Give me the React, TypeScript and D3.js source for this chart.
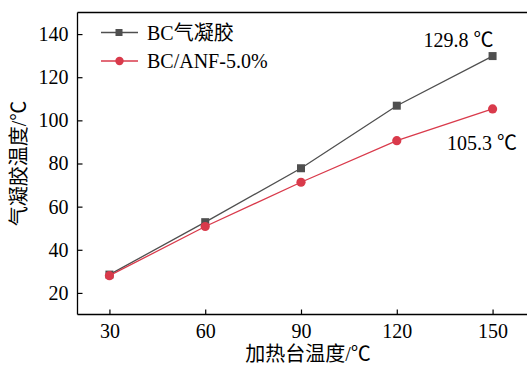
import { useEffect, useRef } from 'react'
import * as d3 from 'd3'

// heating stage temperature (°C)
const temps = [30, 60, 90, 120, 150]
// aerogel surface temperature (°C)
const bcValues = [28.5, 52.8, 77.8, 106.8, 129.8]
const anfValues = [28.0, 50.8, 71.3, 90.6, 105.3]

const xTicks = [30, 60, 90, 120, 150]
const yTicks = [20, 40, 60, 80, 100, 120, 140]

const seriesNames = ['BC气凝胶', 'BC/ANF-5.0%']
const annotations = ['129.8 ℃', '105.3 ℃']

const W = 528
const H = 365
const FONT = '"Liberation Serif", "Times New Roman", "Noto Sans CJK SC", serif'
const GRAY = '#4f4f4f'
const RED = '#d93a4b'

export default function App() {
    const svgRef = useRef<SVGSVGElement>(null)

    useEffect(() => {
        if (!svgRef.current) return
        document.body.style.margin = '0'
        document.body.style.overflow = 'hidden'
        const svg = d3.select(svgRef.current)
        svg.selectAll('*').remove()

        const left = 77.5, top = 12.5, bottom = 314.5
        const x = d3.scaleLinear().domain([20, 160]).range([left, 524.5])
        const y = d3.scaleLinear().domain([10, 150]).range([bottom, top])

        // frame: left, top and bottom (right edge falls outside the picture)
        const frame = svg.append('g').attr('stroke', '#000').attr('stroke-width', 1.3)
        frame.append('line').attr('x1', left).attr('x2', left).attr('y1', top).attr('y2', bottom)
        frame.append('line').attr('x1', left).attr('x2', W - 1).attr('y1', top).attr('y2', top)
        frame.append('line').attr('x1', left).attr('x2', W - 1).attr('y1', bottom).attr('y2', bottom)

        // inward ticks
        const xAxis = svg.append('g').attr('transform', `translate(0,${bottom})`)
            .call(d3.axisBottom(x).tickValues(xTicks).tickSize(-5).tickSizeOuter(0).tickPadding(9).tickFormat(d3.format('d')))
        const yAxis = svg.append('g').attr('transform', `translate(${left},0)`)
            .call(d3.axisLeft(y).tickValues(yTicks).tickSize(-5).tickSizeOuter(0).tickPadding(9).tickFormat(d3.format('d')))
        for (const ax of [xAxis, yAxis]) {
            ax.selectAll('.domain').remove()
            ax.selectAll('line').attr('stroke', '#000').attr('stroke-width', 1.2)
            ax.selectAll('text')
                .attr('fill', '#000')
                .attr('font-family', FONT)
                .attr('font-size', 20)
        }

        const line = d3.line<number>()
            .x((_, i) => x(temps[i]))
            .y(d => y(d))

        // BC series
        svg.append('path').datum(bcValues)
            .attr('fill', 'none').attr('stroke', GRAY).attr('stroke-width', 1.3)
            .attr('d', line)
        svg.selectAll('.sq').data(bcValues).enter().append('rect')
            .attr('x', (_, i) => x(temps[i]) - 4)
            .attr('y', d => y(d) - 4)
            .attr('width', 8).attr('height', 8)
            .attr('fill', GRAY)

        // BC/ANF series
        svg.append('path').datum(anfValues)
            .attr('fill', 'none').attr('stroke', RED).attr('stroke-width', 1.3)
            .attr('d', line)
        svg.selectAll('.dot').data(anfValues).enter().append('circle')
            .attr('cx', (_, i) => x(temps[i]))
            .attr('cy', d => y(d))
            .attr('r', 4.6)
            .attr('fill', RED)

        // legend
        const legend = [
            { name: seriesNames[0], color: GRAY, shape: 'square', ly: 32.5 },
            { name: seriesNames[1], color: RED, shape: 'circle', ly: 61 },
        ]
        legend.forEach(l => {
            svg.append('line')
                .attr('x1', 101).attr('x2', 138).attr('y1', l.ly).attr('y2', l.ly)
                .attr('stroke', l.color).attr('stroke-width', 1.3)
            if (l.shape === 'square') {
                svg.append('rect').attr('x', 115.5).attr('y', l.ly - 3.5)
                    .attr('width', 7).attr('height', 7).attr('fill', l.color)
            } else {
                svg.append('circle').attr('cx', 119.5).attr('cy', l.ly).attr('r', 4.2).attr('fill', l.color)
            }
            svg.append('text')
                .attr('x', 147).attr('y', l.ly + 7)
                .attr('font-family', FONT).attr('font-size', 20).attr('fill', '#000')
                .text(l.name)
        })

        // value annotations
        svg.append('text')
            .attr('x', x(150) + 1).attr('y', y(bcValues[4]) - 9)
            .attr('text-anchor', 'end')
            .attr('font-family', FONT).attr('font-size', 20).attr('fill', '#000')
            .text(annotations[0])
        svg.append('text')
            .attr('x', 517).attr('y', y(anfValues[4]) + 41)
            .attr('text-anchor', 'end')
            .attr('font-family', FONT).attr('font-size', 20).attr('fill', '#000')
            .text(annotations[1])

        // axis titles
        svg.append('text')
            .attr('x', 308).attr('y', 361)
            .attr('text-anchor', 'middle')
            .attr('font-family', FONT).attr('font-size', 20).attr('fill', '#000')
            .text('加热台温度/℃')
        svg.append('text')
            .attr('transform', `translate(26,${(top + bottom) / 2}) rotate(-90)`)
            .attr('text-anchor', 'middle')
            .attr('font-family', FONT).attr('font-size', 20).attr('fill', '#000')
            .text('气凝胶温度/℃')
    }, [])

    return (
        <svg ref={svgRef} width={W} height={H}
            style={{ position: 'absolute', left: 0, top: 0, background: '#fff' }} />
    )
}
